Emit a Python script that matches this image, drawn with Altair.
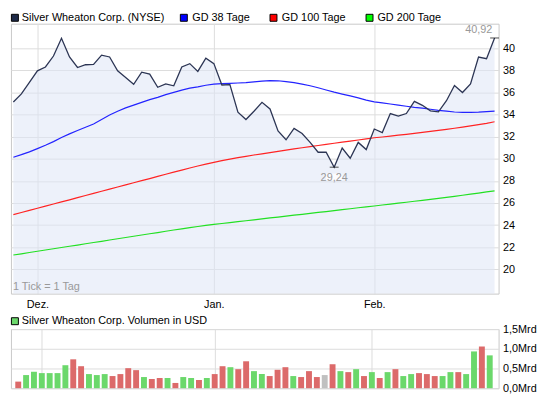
import altair as alt
import pandas as pd

# ---------------- data ----------------
idx = list(range(61))

close = [35.13, 35.87, 36.90, 37.95, 38.30, 39.29, 40.89, 39.20, 38.25, 38.50,
         38.54, 39.37, 39.20, 37.95, 37.35, 36.73, 37.83, 37.65, 36.46, 36.76,
         36.60, 38.30, 38.60, 37.90, 39.10, 38.60, 36.67, 36.70, 34.21, 33.55,
         34.30, 35.10, 34.50, 32.52, 31.72, 32.75, 32.28, 31.48, 30.59, 30.59,
         29.24, 30.97, 30.05, 31.48, 30.83, 32.69, 32.37, 34.09, 33.85, 34.09,
         35.19, 34.83, 34.33, 34.24, 35.25, 36.62, 35.99, 36.76, 39.20, 39.05,
         40.92]

ma38 = [30.14, 30.37, 30.62, 30.92, 31.22, 31.55, 31.92, 32.25, 32.55, 32.85,
        33.15, 33.55, 33.95, 34.30, 34.60, 34.85, 35.10, 35.35, 35.55, 35.80,
        36.00, 36.20, 36.38, 36.50, 36.65, 36.75, 36.80, 36.82, 36.85, 36.88,
        36.95, 37.02, 37.06, 37.05, 36.98, 36.88, 36.75, 36.60, 36.42, 36.22,
        36.02, 35.85, 35.68, 35.50, 35.30, 35.15, 35.05, 34.95, 34.85, 34.75,
        34.65, 34.58, 34.48, 34.38, 34.30, 34.23, 34.20, 34.20, 34.22, 34.26,
        34.30]

ma100 = [24.95, 25.14, 25.33, 25.53, 25.72, 25.91, 26.10, 26.29, 26.49, 26.68,
         26.87, 27.06, 27.25, 27.45, 27.64, 27.83, 28.02, 28.21, 28.41, 28.60,
         28.79, 28.98, 29.17, 29.35, 29.52, 29.68, 29.83, 29.97, 30.10, 30.22,
         30.34, 30.45, 30.56, 30.67, 30.78, 30.89, 31.00, 31.10, 31.20, 31.30,
         31.40, 31.50, 31.60, 31.70, 31.80, 31.90, 31.97, 32.05, 32.13, 32.21,
         32.30, 32.39, 32.48, 32.57, 32.66, 32.76, 32.86, 32.97, 33.08, 33.20,
         33.35]

ma200 = [21.30, 21.41, 21.53, 21.64, 21.75, 21.87, 21.98, 22.09, 22.20, 22.32,
         22.43, 22.54, 22.66, 22.77, 22.88, 23.00, 23.11, 23.22, 23.33, 23.45,
         23.56, 23.67, 23.78, 23.88, 23.98, 24.07, 24.15, 24.23, 24.32, 24.40,
         24.48, 24.57, 24.65, 24.73, 24.82, 24.90, 24.98, 25.07, 25.15, 25.23,
         25.32, 25.40, 25.48, 25.57, 25.65, 25.73, 25.82, 25.90, 25.99, 26.07,
         26.16, 26.24, 26.33, 26.42, 26.51, 26.60, 26.70, 26.80, 26.90, 27.00,
         27.10]

volume = [0.167, 0.333, 0.417, 0.383, 0.383, 0.383, 0.583, 0.733, 0.558, 0.358,
          0.333, 0.358, 0.308, 0.358, 0.508, 0.458, 0.283, 0.233, 0.258, 0.258,
          0.133, 0.283, 0.258, 0.208, 0.258, 0.358, 0.558, 0.533, 0.483, 0.683,
          0.433, 0.358, 0.308, 0.467, 0.533, 0.308, 0.283, 0.433, 0.283, 0.333,
          0.608, 0.433, 0.408, 0.483, 0.308, 0.408, 0.258, 0.408, 0.483, 0.308,
          0.358, 0.383, 0.358, 0.308, 0.308, 0.408, 0.408, 0.358, 0.933, 1.058,
          0.833]

direction = ["down", "up", "up", "up", "up", "up", "up", "down", "down", "up",
             "up", "up", "down", "down", "down", "down", "up", "down", "down", "up",
             "down", "up", "up", "down", "up", "down", "down", "up", "down", "down",
             "up", "up", "down", "down", "down", "up", "down", "down", "down", "flat",
             "down", "up", "down", "up", "down", "up", "down", "up", "down", "up",
             "up", "down", "down", "down", "up", "up", "down", "up", "up", "down",
             "up"]

month_ticks = [3, 25, 45]
month_labels = ["Dez.", "Jan.", "Feb."]
price_ticks = [20, 22, 24, 26, 28, 30, 32, 34, 36, 38, 40]
vol_ticks = [0, 0.5, 1.0, 1.5]

legend_labels = ["Silver Wheaton Corp. (NYSE)", "GD 38 Tage", "GD 100 Tage", "GD 200 Tage"]
vol_title = "Silver Wheaton Corp. Volumen in USD"
tick_note = "1 Tick = 1 Tag"

# ---------------- styling ----------------
FONT = "Liberation Sans"
C_PRICE = "#2c3554"
C_MA38 = "#2323ff"
C_MA100 = "#ff2323"
C_MA200 = "#22e022"
LEG_COLORS = ["#1e2a48", "#0000ff", "#ff0000", "#00ff00"]
C_AREA = "#dfe5f5"
C_UP = "#6bd86b"
C_DOWN = "#dc6a6a"
C_FLAT = "#c0c0c0"
GRID = "#dcdcdc"
FRAME = "#c8c8c8"
BOX_SHAPE = "M-1.2,-0.5H1.2V0.5H-1.2Z"

W = 495
H_MAIN = 274
H_VOL = 60
Y_MIN, Y_MAX = 17.81, 42.21

df = pd.DataFrame({"i": idx, "close": close, "ma38": ma38, "ma100": ma100,
                   "ma200": ma200, "vol": volume, "dir": direction})
one = pd.DataFrame({"k": [0]})

label_expr = " : ".join(
    [f"datum.value == {v} ? '{l}'" for v, l in zip(month_ticks, month_labels)]
) + " : ''"

x_scale = alt.Scale(domain=[-0.3, 60.5], nice=False, zero=False)
y_scale = alt.Scale(domain=[Y_MIN, Y_MAX], nice=False, zero=False)

x_axis_main = alt.Axis(values=month_ticks, labelExpr=label_expr, grid=True,
                       ticks=False, domain=False, labelPadding=5,
                       labelFlush=False, title=None)
y_axis_main = alt.Axis(orient="right", values=price_ticks, grid=True, ticks=False,
                       domain=False, labelPadding=4, title=None)

X = alt.X("i:Q", scale=x_scale, axis=x_axis_main, title=None)


def Y(field):
    return alt.Y(f"{field}:Q", scale=y_scale, axis=y_axis_main, title=None)


base = alt.Chart(df).encode(x=X)

area = base.mark_area(color=C_AREA, opacity=0.55).encode(
    y=Y("close"), y2=alt.datum(Y_MIN))
l200 = base.mark_line(color=C_MA200, strokeWidth=1.2).encode(y=Y("ma200"))
l100 = base.mark_line(color=C_MA100, strokeWidth=1.2).encode(y=Y("ma100"))
l38 = base.mark_line(color=C_MA38, strokeWidth=1.2).encode(y=Y("ma38"))
lp = base.mark_line(color=C_PRICE, strokeWidth=1.3).encode(y=Y("close"))

extremes = base.transform_filter(
    "datum.close == 40.92 || datum.close == 29.24"
).transform_calculate(
    lab="replace(format(datum.close, '.2f'), '.', ',')"
)
ticks_ext = extremes.mark_tick(orient="horizontal", size=9, thickness=1,
                               color="#000").encode(y=Y("close"))
hi_lab = extremes.transform_filter("datum.close > 35").mark_text(
    font=FONT, fontSize=11, color="#999999", align="center", baseline="middle",
    dx=-16, dy=-8).encode(y=Y("close"), text="lab:N")
lo_bg = extremes.transform_filter("datum.close < 35").mark_point(
    shape=BOX_SHAPE, size=196, filled=True, color="#ffffff", opacity=0.8,
    strokeWidth=0, yOffset=10).encode(y=Y("close"))
lo_lab = extremes.transform_filter("datum.close < 35").mark_text(
    font=FONT, fontSize=11, color="#999999", align="center", baseline="middle",
    dy=11).encode(y=Y("close"), text="lab:N")

note = alt.Chart(one).mark_text(
    text=tick_note, font=FONT, fontSize=11, color="#999999", align="left",
    baseline="middle").encode(x=alt.value(2), y=alt.value(H_MAIN - 7))

leg_sq_x = [4, 175.5, 266.5, 364]
leg_tx_x = [11, 184, 275, 372]
leg_layers = []
for lab, col, sx, tx in zip(legend_labels, LEG_COLORS, leg_sq_x, leg_tx_x):
    leg_layers.append(alt.Chart(one).mark_square(
        size=50, color=col, fill=col, opacity=1, stroke="#000", strokeWidth=1
    ).encode(x=alt.value(sx), y=alt.value(-6)))
    leg_layers.append(alt.Chart(one).mark_text(
        text=lab, font=FONT, fontSize=11, color="#000", align="left",
        baseline="middle").encode(x=alt.value(tx), y=alt.value(-6)))

main = alt.layer(area, l200, l100, l38, lp, ticks_ext, hi_lab, lo_bg, lo_lab,
                 note, *leg_layers).properties(width=W, height=H_MAIN)

# ---------------- volume panel ----------------
vol_label_expr = "replace(format(datum.value, '.1f'), '.', ',') + 'Mrd'"
bars = alt.Chart(df).mark_bar(size=6).encode(
    x=alt.X("i:Q", scale=x_scale, title=None,
            axis=alt.Axis(values=month_ticks, labels=False, ticks=False,
                          domain=False, grid=True, title=None)),
    y=alt.Y("vol:Q", scale=alt.Scale(domain=[0, 1.5], nice=False), title=None,
            axis=alt.Axis(orient="right", values=vol_ticks, labelExpr=vol_label_expr,
                          grid=True, ticks=False, domain=False, labelPadding=4,
                          title=None)),
    color=alt.Color("dir:N", legend=None,
                    scale=alt.Scale(domain=["up", "down", "flat"],
                                    range=[C_UP, C_DOWN, C_FLAT])),
)
vol_sq = alt.Chart(one).mark_square(
    size=50, color=C_UP, fill=C_UP, opacity=1, stroke="#000", strokeWidth=1
).encode(x=alt.value(4), y=alt.value(-8))
vol_tx = alt.Chart(one).mark_text(
    text=vol_title, font=FONT, fontSize=11, color="#000", align="left",
    baseline="middle").encode(x=alt.value(11), y=alt.value(-8))

vol = alt.layer(bars, vol_sq, vol_tx).properties(width=W, height=H_VOL)

chart = alt.vconcat(main, vol, spacing=36, bounds="flush").properties(
    padding=0
).configure_view(
    stroke=FRAME
).configure_axis(
    labelFont=FONT, labelFontSize=11, labelColor="#000", gridColor=GRID,
    gridWidth=1
).configure_text(font=FONT)

chart.save("out.html", embed_options={"renderer": "svg", "actions": False})
